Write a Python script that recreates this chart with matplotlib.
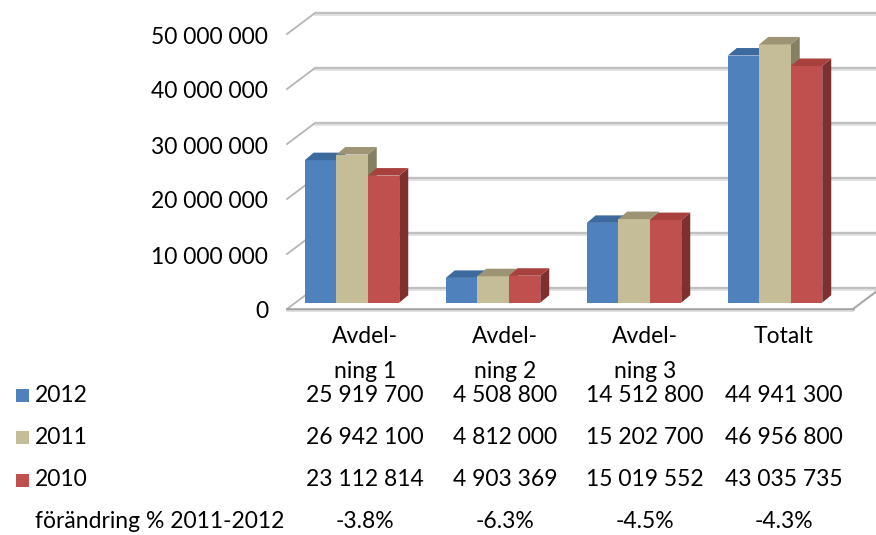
import matplotlib
matplotlib.use("Agg")
import matplotlib.pyplot as plt
from matplotlib.patches import Polygon, Rectangle
import numpy as np

# ---------------- data ----------------
categories = ["Avdel-\nning 1", "Avdel-\nning 2", "Avdel-\nning 3", "Totalt"]
series_names = ["2012", "2011", "2010"]
values_2012 = [25919700, 4508800, 14512800, 44941300]
values_2011 = [26942100, 4812000, 15202700, 46956800]
values_2010 = [23112814, 4903369, 15019552, 43035735]
change_label = "förändring % 2011-2012"
change_pct = [-3.8, -6.3, -4.5, -4.3]
yticks = [0, 10000000, 20000000, 30000000, 40000000, 50000000]

series = [values_2012, values_2011, values_2010]
front_colors = ["#4F81BD", "#C4BD97", "#C0504D"]
top_colors = ["#3D6A9E", "#9C9474", "#A8403D"]
side_colors = ["#3A6190", "#858062", "#7E302E"]

plt.rcParams['font.family'] = ['Lato', 'DejaVu Sans']
FS = 16.5

W, H = 876, 535
fig = plt.figure(figsize=(W / 100, H / 100), dpi=100)
ax = fig.add_axes([0, 0, 1, 1])
ax.axis("off")

# pixel <-> data mapping (layout)
PX_X0 = 352.0        # pixel x of category 0 centre
PX_PER_CAT = 141.0
BASE_PY = 302.7      # pixel y (from top) of bar baseline
PX_PER_VAL = 5.5e-6  # pixels per value unit

def dx_px(p):
    return p / PX_PER_CAT

def dy_px(p):
    return p / PX_PER_VAL

def X(px):
    return (px - PX_X0) / PX_PER_CAT

def Y(py):
    return (BASE_PY - py) / PX_PER_VAL

ax.set_xlim(X(0), X(W))
ax.set_ylim(Y(H), Y(0))

# 3D plane offsets relative to bar plane
dxF, dyF = dx_px(-8.4), -dy_px(6.3)
dxB, dyB = dx_px(19.6), dy_px(14.7)
xL, xR = X(295.4), X(861.4)

# back wall gridlines
for v in yticks:
    ax.plot([xL + dxB, xR + dxB], [v + dyB, v + dyB], color="#c0c0c0", lw=2.4,
            solid_capstyle="butt", zorder=1)
    ax.plot([xL + dxB, xR + dxB], [v + dyB - dy_px(2), v + dyB - dy_px(2)],
            color="#e2e2e2", lw=1.3, zorder=1)
    # left wall tick diagonals
    ax.plot([xL + dxF, xL + dxB], [v + dyF, v + dyB], color="#b5b5b5", lw=1.3, zorder=1)

# floor front edge and right diagonal
ax.plot([xL + dxF, xR + dxF], [dyF, dyF], color="#a0a0a0", lw=1.8, zorder=1)
ax.plot([xL + dxF, xR + dxF], [dyF - dy_px(2), dyF - dy_px(2)], color="#dadada", lw=1.2, zorder=1)
ax.plot([xR + dxF, xR + dxB], [dyF, dyB], color="#a8a8a8", lw=1.5, zorder=1)

# bars with 3D top and side
bw = 31.5 / PX_PER_CAT
ddx, ddy = dx_px(9), dy_px(7.5)
x = np.arange(len(categories))
for k, vals in enumerate(series):
    xs = x + (k - 1) * bw
    ax.bar(xs, vals, width=bw, color=front_colors[k], edgecolor="none", zorder=3 + k * 0.1)
    for xc, v in zip(xs, vals):
        x0, x1 = xc - bw / 2, xc + bw / 2
        top = Polygon([[x0, v], [x1, v], [x1 + ddx, v + ddy], [x0 + ddx, v + ddy]],
                      closed=True, facecolor=top_colors[k], edgecolor="none",
                      zorder=3 + k * 0.1)
        side = Polygon([[x1, 0], [x1 + ddx, ddy], [x1 + ddx, v + ddy], [x1, v]],
                       closed=True, facecolor=side_colors[k], edgecolor="none",
                       zorder=3 + k * 0.1 - 0.05)
        ax.add_patch(side)
        ax.add_patch(top)

# y tick labels
for v in yticks:
    s = f"{v:,}".replace(",", " ")
    ax.text(X(268), v + dyF - dy_px(3), s, ha="right", va="center", fontsize=FS, color="#000000")

# data table
col_px = [365, 505, 645, 784]
for cx, cat in zip(col_px, categories):
    ax.text(X(cx), Y(326), cat, ha="center", va="top", fontsize=FS, linespacing=1.8)

row_py = [395, 437, 480, 521]
for r, (name, vals) in enumerate(zip(series_names, series)):
    yy = Y(row_py[r])
    ax.add_patch(Rectangle((X(16), Y(row_py[r] + 7)), dx_px(13), dy_px(13),
                           facecolor=front_colors[r], edgecolor="none"))
    ax.text(X(35), yy, name, ha="left", va="center", fontsize=FS)
    for cx, v in zip(col_px, vals):
        ax.text(X(cx), yy, f"{v:,}".replace(",", " "), ha="center", va="center", fontsize=FS)

yy = Y(row_py[3])
ax.text(X(35), yy, change_label, ha="left", va="center", fontsize=FS)
for cx, c in zip(col_px, change_pct):
    ax.text(X(cx), yy, f"{c:.1f}%", ha="center", va="center", fontsize=FS)

fig.savefig("out.png", dpi=100)
